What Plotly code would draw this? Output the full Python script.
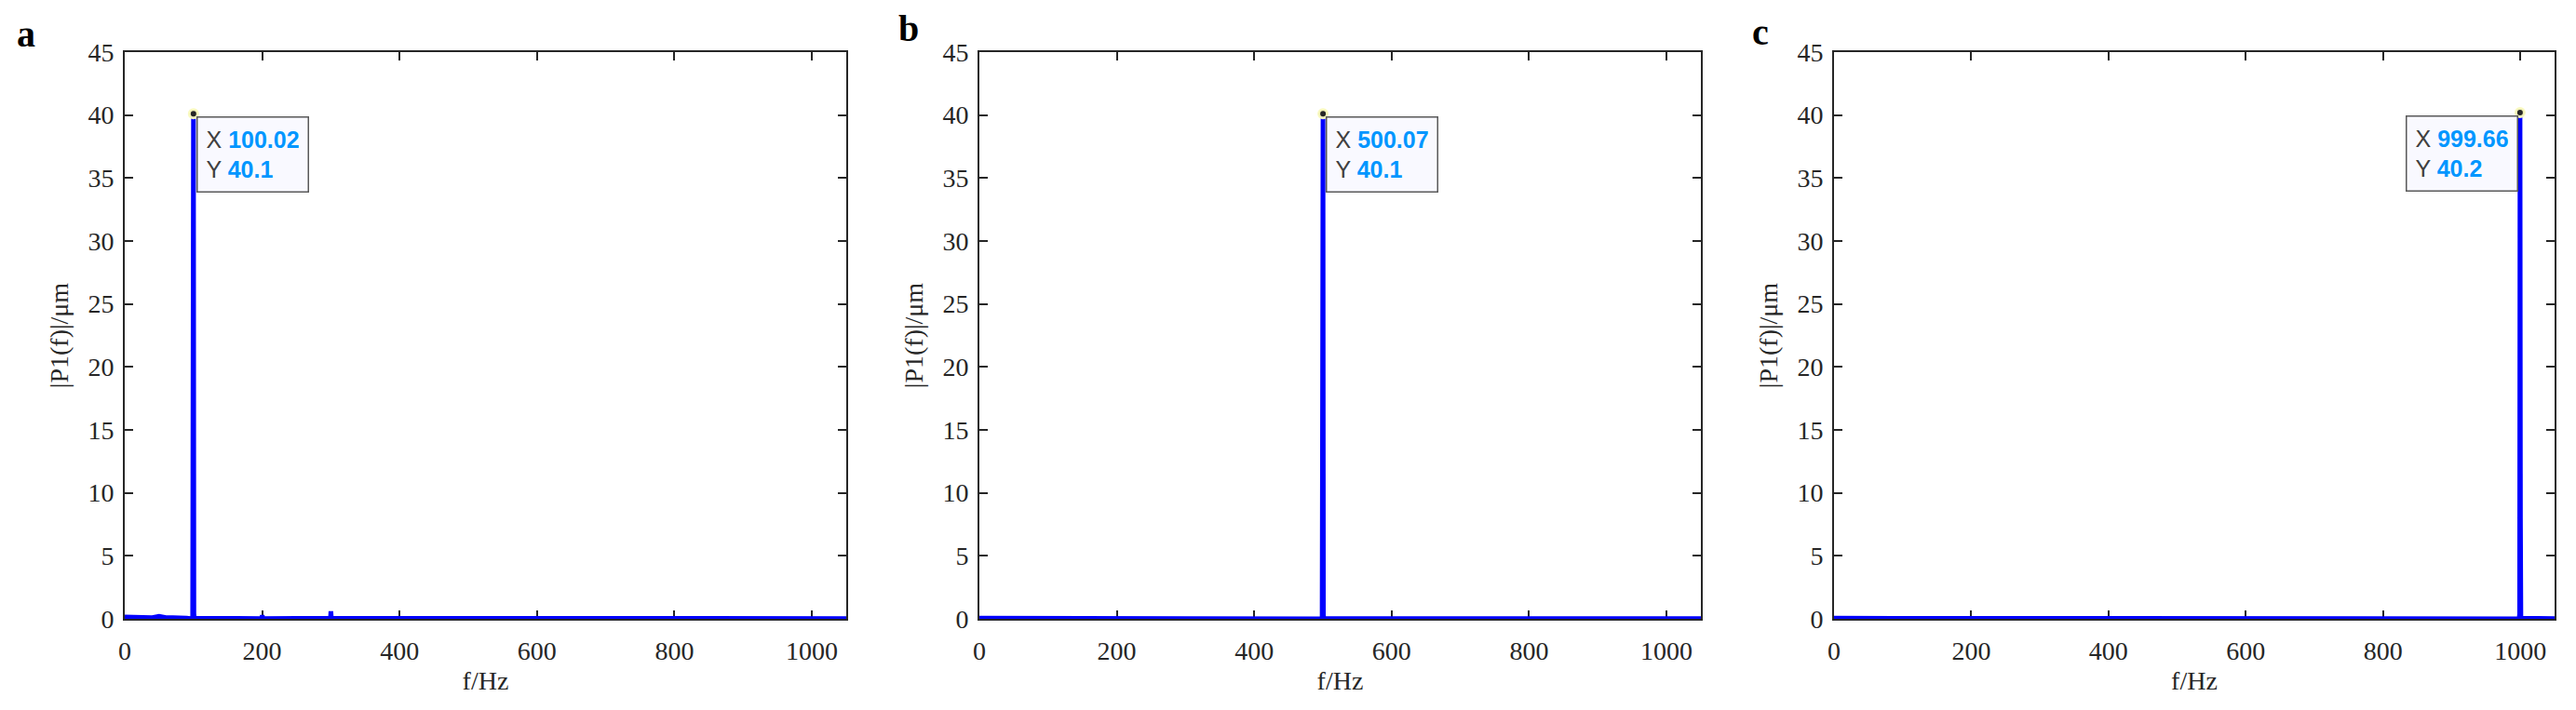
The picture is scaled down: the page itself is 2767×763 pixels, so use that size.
"""
Spectres d'amplitude |P1(f)| pour trois fréquences d'excitation (a, b, c)
"""

import plotly.graph_objects as go
from plotly.subplots import make_subplots

# Données
freq_a = [0, 20, 30, 40, 50, 60, 70, 80, 90, 98.8, 99.41, 100.02, 100.63, 101.2,
          199.5, 200.1, 200.7, 299.4, 300.0, 300.6, 1050]
amp_a = [0.15, 0.1, 0.15, 0.1, 0.2, 0.1, 0.1, 0.1, 0.05, 0.0, 19.1, 40.1, 0.4, 0.05,
         0.02, 0.3, 0.02, 0.05, 0.6, 0.05, 0.02]

freq_b = [0, 100, 200, 300, 400, 498.8, 499.46, 500.07, 500.68, 501.3, 700, 900, 1050]
amp_b = [0.05, 0.03, 0.03, 0.03, 0.03, 0.0, 19.5, 40.1, 0.3, 0.02, 0.02, 0.02, 0.02]

freq_c = [0, 200, 400, 600, 800, 998.4, 999.05, 999.66, 1000.27, 1000.9, 1050]
amp_c = [0.05, 0.03, 0.03, 0.03, 0.03, 0.0, 0.4, 40.2, 8.0, 0.05, 0.02]

peaks_x = [100.02, 500.07, 999.66]
peaks_y = [40.1, 40.1, 40.2]
peak_labels_x = ['100.02', '500.07', '999.66']
peak_labels_y = ['40.1', '40.1', '40.2']
panel_labels = ['a', 'b', 'c']

x_ticks = [0, 200, 400, 600, 800, 1000]
y_ticks = [0, 5, 10, 15, 20, 25, 30, 35, 40, 45]

W, H = 2767, 763
AXIS_COLOR = '#262626'
SERIF = 'Liberation Serif'

fig = make_subplots(rows=1, cols=3)

for i, (fx, px_) in enumerate([(freq_a, amp_a), (freq_b, amp_b), (freq_c, amp_c)]):
    fig.add_trace(go.Scatter(
        x=fx, y=px_, mode='lines',
        line=dict(color='#0000FF', width=5),
        showlegend=False, hoverinfo='skip'
    ), row=1, col=i + 1)
    # point du datatip
    fig.add_trace(go.Scatter(
        x=[peaks_x[i]], y=[peaks_y[i]], mode='markers',
        marker=dict(color=AXIS_COLOR, size=9,
                    line=dict(color='rgba(250,250,190,0.95)', width=3)),
        showlegend=False, hoverinfo='skip', cliponaxis=False
    ), row=1, col=i + 1)

# Position des axes et des lettres (pixels mesurés sur l'original)
x_doms = [(134, 909), (1052, 1827), (1970, 2744)]
y_top, y_bot = 56, 665
label_pos = [(28, 37), (976, 31), (1891, 34)]

axis_common = dict(
    showline=True, linecolor=AXIS_COLOR, linewidth=2, mirror='ticks',
    ticks='inside', ticklen=9, tickwidth=2, tickcolor=AXIS_COLOR,
    showgrid=False, zeroline=False, layer='below traces', automargin=False,
    tickfont=dict(family=SERIF, size=28, color=AXIS_COLOR),
)

for i, (x0, x1) in enumerate(x_doms):
    sfx = '' if i == 0 else str(i + 1)
    fig.layout['xaxis' + sfx].update(
        domain=[x0 / W, x1 / W], range=[0, 1050], tickvals=x_ticks,
        title=dict(text='f/Hz', font=dict(family=SERIF, size=28, color=AXIS_COLOR),
                   standoff=8),
        ticklabelstandoff=8, **axis_common)
    fig.layout['yaxis' + sfx].update(
        domain=[1 - y_bot / H, 1 - y_top / H], range=[0, 45], tickvals=y_ticks,
        title=dict(text='|P1(f)|/μm', font=dict(family=SERIF, size=28, color=AXIS_COLOR),
                   standoff=13),
        ticklabelstandoff=4, **axis_common)

    # étiquette du panneau
    lx, ly = label_pos[i]
    fig.add_annotation(
        text='<b>' + panel_labels[i] + '</b>', xref='paper', yref='paper',
        x=lx / W, y=1 - ly / H, xanchor='center', yanchor='middle',
        showarrow=False, font=dict(family=SERIF, size=40, color='black'))

    # datatip
    tip = ('<span style="color:#404040">X</span> <b>' + peak_labels_x[i] + '</b><br>'
           '<span style="color:#404040">Y</span> <b>' + peak_labels_y[i] + '</b>')
    right = i == 2
    fig.add_annotation(
        text=tip, xref='x' + sfx, yref='y' + sfx, x=peaks_x[i], y=peaks_y[i],
        showarrow=False, align='left',
        xanchor='right' if right else 'left', yanchor='top',
        xshift=-2 if right else 3, yshift=-3,
        width=100, borderpad=9,
        bgcolor='#F9F9FF', bordercolor='#595959', borderwidth=1.5,
        font=dict(family='Liberation Sans', size=25, color='#0096FF'))

fig.update_layout(
    width=W, height=H,
    margin=dict(l=0, r=0, t=0, b=0),
    plot_bgcolor='white', paper_bgcolor='white',
)

fig.write_html("out.html", config={'displayModeBar': False},
               post_script="document.body.style.margin = '0';")
